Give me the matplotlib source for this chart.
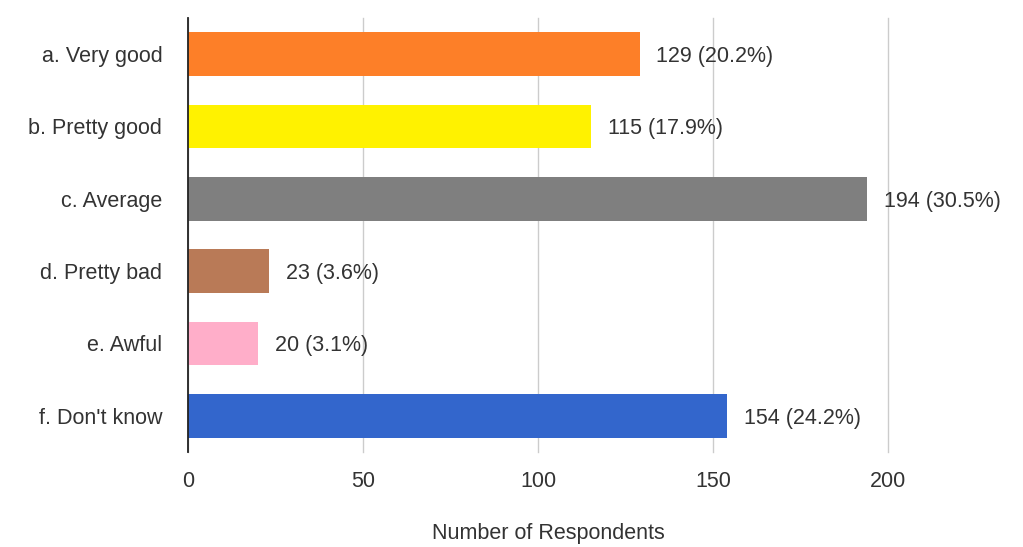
import matplotlib
matplotlib.use("Agg")
import matplotlib.pyplot as plt

# Survey answers and counts
categories = ["a. Very good", "b. Pretty good", "c. Average",
              "d. Pretty bad", "e. Awful", "f. Don't know"]
counts = [129, 115, 194, 23, 20, 154]
percents = [20.2, 17.9, 30.5, 3.6, 3.1, 24.2]
colors = ["#FD7F28", "#FFF200", "#7F7F7F", "#B97A57", "#FFAEC9", "#3366CC"]

plt.rcParams["font.family"] = ["Liberation Sans", "DejaVu Sans"]
fs = 15.5
txt = "#333333"

fig = plt.figure(figsize=(10.23, 5.47), dpi=100)
ax = fig.add_axes([188/1023, 1 - 452/547, 700/1023, 434/547])

y = range(len(categories))
ax.barh(y, counts, height=0.6, color=colors, zorder=3)
ax.set_ylim(len(categories) - 0.5, -0.5)
ax.set_xlim(0, 200)
ax.set_xticks([0, 50, 100, 150, 200])
ax.set_yticks(list(y))
ax.set_yticklabels(categories, fontsize=fs, color=txt, va="center_baseline")
ax.tick_params(axis="y", length=0, pad=18.5)
ax.tick_params(axis="x", length=0, pad=14, labelsize=fs, labelcolor=txt)
ax.grid(axis="x", color="#CCCCCC", linewidth=1, zorder=0)
for gl in ax.get_xgridlines():
    gl.set_clip_on(False)
for s in ["top", "right", "bottom"]:
    ax.spines[s].set_visible(False)
ax.spines["left"].set_color("#222222")
ax.spines["left"].set_linewidth(1.3)
ax.spines["left"].set_zorder(4)

# value labels to the right of each bar
for i, (c, p) in enumerate(zip(counts, percents)):
    ax.annotate(f"{c} ({p}%)", (c, i), xytext=(17, 0), textcoords="offset pixels",
                va="center_baseline", ha="left", fontsize=fs, color=txt,
                annotation_clip=False)

fig.text(548/1023, 1 - 533/547, "Number of Respondents", ha="center", va="center",
         fontsize=fs, color=txt)

fig.savefig("out.png", dpi=100, facecolor="white")
